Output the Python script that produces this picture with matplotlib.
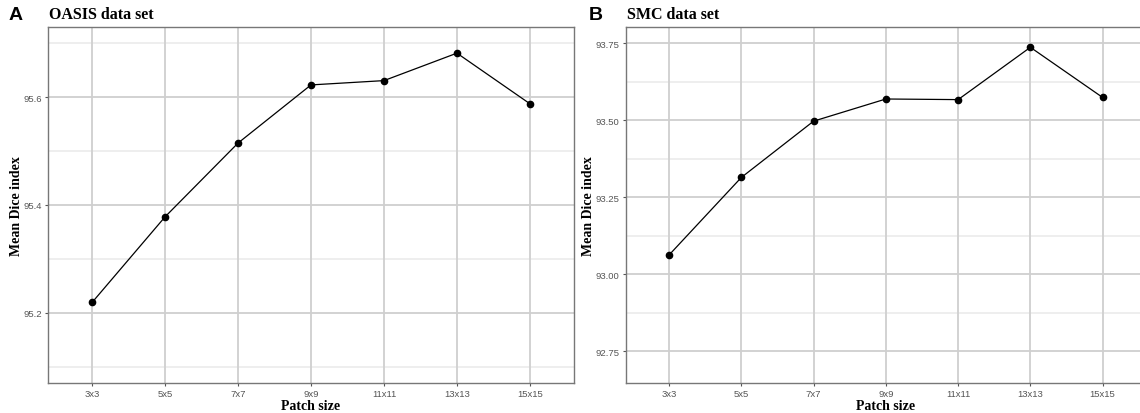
import matplotlib
matplotlib.use("Agg")
import matplotlib.pyplot as plt
import numpy as np

# Data
patch_sizes = ["3x3", "5x5", "7x7", "9x9", "11x11", "13x13", "15x15"]
oasis_dice = [95.219, 95.378, 95.515, 95.623, 95.631, 95.682, 95.588]
smc_dice = [93.062, 93.314, 93.497, 93.569, 93.567, 93.737, 93.574]

oasis_major = [95.2, 95.4, 95.6]
oasis_minor = [95.1, 95.3, 95.5, 95.7]
smc_major = [92.75, 93.00, 93.25, 93.50, 93.75]
smc_minor = [92.875, 93.125, 93.375, 93.625]

W, H = 1140, 414
fig = plt.figure(figsize=(W / 100, H / 100), dpi=100)

serif = "Liberation Serif"
sans = "Liberation Sans"


def make_panel(rect, values, major, minor, ylim, fmt, title, letter, letter_x, ylab_x):
    ax = fig.add_axes(rect)
    x = np.arange(1, len(patch_sizes) + 1)
    ax.set_xlim(0.4, len(patch_sizes) + 0.6)
    ax.set_ylim(*ylim)

    # grid (ggplot theme_bw look)
    for yv in minor:
        ax.axhline(yv, color="#ebebeb", lw=1.2, zorder=0)
    for yv in major:
        ax.axhline(yv, color="#cfcfcf", lw=1.3, zorder=0)
    for xv in x:
        ax.axvline(xv, color="#cfcfcf", lw=1.3, zorder=0)

    ax.plot(x, values, color="black", lw=0.9, marker="o", ms=4.5, zorder=3)

    ax.set_xticks(x)
    ax.set_xticklabels(patch_sizes)
    ax.set_yticks(major)
    ax.set_yticklabels([fmt.format(v) for v in major])
    ax.tick_params(axis="both", labelsize=6.8, labelcolor="#555555",
                   color="#555555", length=2.5, width=0.8, pad=2)
    for lab in ax.get_xticklabels() + ax.get_yticklabels():
        lab.set_fontfamily(sans)
    for sp in ax.spines.values():
        sp.set_color("#777777")
        sp.set_linewidth(1.0)

    ax.set_xlabel("Patch size", fontsize=10, fontweight="bold",
                  fontfamily=serif, labelpad=1)
    ax.set_ylabel("Mean Dice index", fontsize=10, fontweight="bold",
                  fontfamily=serif, va="center")
    # place y label centre at a pixel x position
    ax.yaxis.set_label_coords((ylab_x - rect[0] * W) / (rect[2] * W), 0.5)

    x0 = rect[0]
    fig.text(x0 + 0.001, 1 - 15 / H, title, fontsize=11.5, fontweight="bold",
             fontfamily=serif, va="center", ha="left")
    fig.text(letter_x, 1 - 15 / H, letter, fontsize=14, fontweight="bold",
             fontfamily=sans, va="center", ha="left")
    return ax


bottom = (H - 383.7) / H
top = (H - 28.3) / H
make_panel([48.3 / W, bottom, (573.7 - 48.3) / W, top - bottom],
           oasis_dice, oasis_major, oasis_minor, (95.07, 95.73), "{:.1f}",
           "OASIS data set", "A", 9 / W, 17)
make_panel([625.7 / W, bottom, (1146 - 625.7) / W, top - bottom],
           smc_dice, smc_major, smc_minor, (92.647, 93.802), "{:.2f}",
           "SMC data set", "B", 589 / W, 588)

fig.savefig("out.png", dpi=100)
